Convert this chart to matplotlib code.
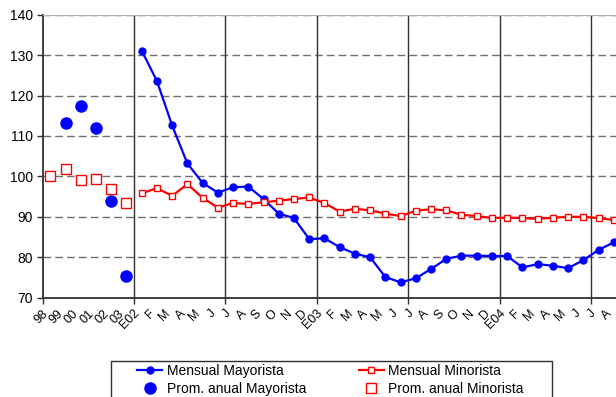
import matplotlib
matplotlib.use("Agg")
import matplotlib.pyplot as plt
import matplotlib.transforms as mtransforms
import numpy as np
from matplotlib.lines import Line2D
from matplotlib.patches import Rectangle

plt.rcParams['font.family'] = ['Liberation Sans', 'DejaVu Sans']

categories = ["98", "99", "00", "01", "02", "03",
              "E02", "F", "M", "A", "M", "J", "J", "A", "S", "O", "N", "D",
              "E03", "F", "M", "A", "M", "J", "J", "A", "S", "O", "N", "D",
              "E04", "F", "M", "A", "M", "J", "J", "A"]

nan = np.nan
# Annual averages (first 6 categories)
anual_mayorista = [nan, 113.3, 117.4, 112.0, 93.9, 75.4]
anual_minorista = [100.0, 101.9, 99.1, 99.4, 96.9, 93.5]

# Monthly series (E02 .. A04)
mensual_mayorista = [131.1, 123.6, 112.6, 103.2, 98.4, 96.0, 97.3, 97.5, 94.4, 90.8, 89.7, 84.5,
                     84.7, 82.5, 80.9, 80.0, 75.1, 73.8, 74.8, 77.1, 79.6, 80.4, 80.4, 80.3,
                     80.3, 77.5, 78.3, 77.9, 77.3, 79.3, 81.8, 83.7]
mensual_minorista = [95.8, 97.1, 95.2, 98.1, 94.7, 92.3, 93.4, 93.2, 93.6, 94.0, 94.4, 94.8,
                     93.4, 91.3, 92.0, 91.6, 90.8, 90.2, 91.5, 91.9, 91.6, 90.5, 90.2, 89.7,
                     89.8, 89.7, 89.5, 89.8, 90.0, 90.0, 89.7, 89.2]

labels = ["Mensual Mayorista", "Prom. anual Mayorista", "Mensual Minorista", "Prom. anual Minorista"]

W, H = 616, 397
fig = plt.figure(figsize=(W / 100, H / 100), dpi=100)
left_px, right_px = 42.7, 621.4
top_px, bot_px = 14.7, 297.7
ax = fig.add_axes([left_px / W, 1 - bot_px / H, (right_px - left_px) / W, (bot_px - top_px) / H])

n_annual = len(anual_mayorista)
x_annual = np.arange(n_annual)
x_month = np.arange(n_annual, n_annual + len(mensual_mayorista))

blue = '#0000ff'
red = '#ff0000'

# grid
ax.set_ylim(70, 140)
ax.set_xlim(-0.5, len(categories) - 0.5)
for yv in range(80, 141, 10):
    ax.axhline(yv, color='#707070', lw=1.0, dashes=(5.5, 3), zorder=1)
boundaries = np.arange(n_annual - 0.5, len(categories), 6)
for xb in boundaries:
    ax.axvline(xb, color='#303030', lw=1.0, zorder=1)

ax.plot(x_month, mensual_mayorista, color=blue, lw=1.6, marker='o', ms=5,
        mfc=blue, mec=blue, zorder=3)
ax.plot(x_month, mensual_minorista, color=red, lw=1.6, marker='s', ms=5,
        mfc='white', mec=red, mew=1.0, zorder=3)
ax.plot(x_annual, anual_mayorista, ls='none', marker='o', ms=8,
        mfc=blue, mec=blue, zorder=3)
ax.plot(x_annual, anual_minorista, ls='none', marker='s', ms=7.5,
        mfc='white', mec=red, mew=1.0, zorder=3)

ax.set_yticks(range(70, 141, 10))
ax.tick_params(axis='y', direction='out', length=4, width=1, colors='#303030',
               labelcolor='black', labelsize=10, pad=3)
ax.set_xticks(np.arange(len(categories)))
ax.set_xticklabels(categories, rotation=45, ha='right', va='center', rotation_mode='anchor',
                   fontsize=9)
ax.tick_params(axis='x', which='major', length=0, pad=10)
offset = mtransforms.ScaledTranslation(-4 / 100, 0, fig.dpi_scale_trans)
for lbl in ax.get_xticklabels():
    lbl.set_transform(lbl.get_transform() + offset)
ax.set_xticks(np.concatenate(([-0.5], boundaries)), minor=True)
ax.tick_params(axis='x', which='minor', direction='out', length=4, width=1, colors='#303030')

for s in ['left', 'bottom']:
    ax.spines[s].set_color('#303030')
    ax.spines[s].set_linewidth(1.3)
ax.spines['right'].set_visible(False)
ax.spines['top'].set_color('#b0b0b0')

# legend
frame = Rectangle((110.7 / W, 1 - 420 / H), (552.3 - 110.7) / W, (420 - 360.7) / H,
                  transform=fig.transFigure, fill=False, edgecolor='#303030', lw=1.0)
fig.patches.append(frame)
h1 = Line2D([], [], color=blue, lw=1.6, marker='o', ms=5, mfc=blue, mec=blue)
h2 = Line2D([], [], ls='none', marker='o', ms=8, mfc=blue, mec=blue)
h3 = Line2D([], [], color=red, lw=1.6, marker='s', ms=5, mfc='white', mec=red)
h4 = Line2D([], [], ls='none', marker='s', ms=7.5, mfc='white', mec=red)
fig.legend([h1, h2, h3, h4], labels, ncol=2, loc='upper left',
           bbox_to_anchor=(136 / W, 1 - 362.5 / H), frameon=False, fontsize=10,
           handlelength=1.8, handletextpad=0.3, columnspacing=3.8, labelspacing=0.3,
           borderpad=0.1, borderaxespad=0)

fig.savefig('out.png', dpi=100)
